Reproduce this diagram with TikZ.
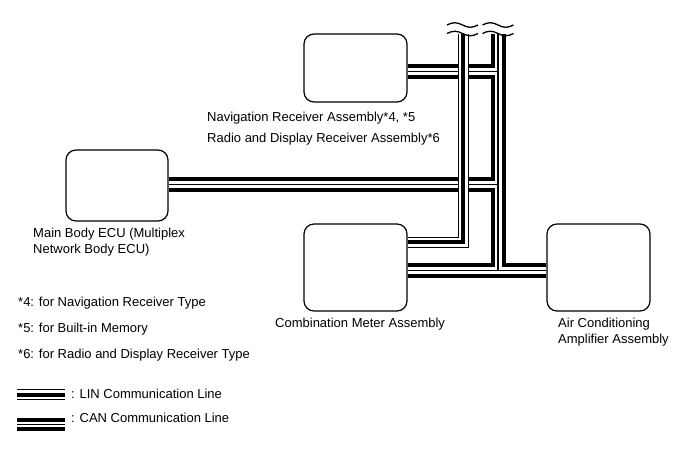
\documentclass[tikz,border=0pt]{standalone}
\usepackage{fontspec}
\setmainfont{Liberation Sans}
\begin{document}
\begin{tikzpicture}[x=1pt,y=-1pt,
  unit/.style={draw, line width=1.2pt, rounded corners=10pt, inner sep=0pt},
  lbl/.style={anchor=base west, inner sep=0pt, font=\fontsize{13}{15}\selectfont},
  canbus/.style={draw=black, line width=15pt, line cap=butt, line join=miter,
    postaction={draw=white, line width=7pt},
    postaction={draw=black, line width=1.2pt}},
  linbus/.style={draw=black, line width=11pt, line cap=butt, line join=miter,
    postaction={draw=white, line width=9pt},
    postaction={draw=black, line width=4pt}},
  canleg/.style={draw=black, line width=12.5pt, line cap=butt,
    postaction={draw=white, line width=4.5pt},
    postaction={draw=black, line width=1.2pt}},
  tilde/.style={draw=black, line width=1.3pt}
]
\useasboundingbox (0,0) rectangle (689,464);

% units
\node[unit, minimum width=103pt, minimum height=68pt] (nav) at (355.5,68) {};
\node[unit, minimum width=102pt, minimum height=71pt] (ecu) at (117,185.5) {};
\node[unit, minimum width=103pt, minimum height=87pt] (comb) at (355.5,267.5) {};
\node[unit, minimum width=103pt, minimum height=87pt] (ac) at (598.5,267.5) {};

% junction coordinates
\coordinate (canTop) at (498,33.5);
\coordinate (linTop) at (463,33.5);
\coordinate (jNav) at (498,71.5);
\coordinate (jEcu) at (498,184.5);
\coordinate (jBus) at (498,270.5);
\coordinate (linCorner) at (463,242);

% CAN bus (one path so that the junctions merge)
\draw[canbus] (canTop) -- (jBus)
  (nav.east |- jNav) -- (jNav)
  (ecu.east |- jEcu) -- (jEcu)
  (comb.east |- jBus) -- (ac.west |- jBus);

% LIN line
\draw[linbus] (linTop) -- (linCorner) -- (comb.east |- linCorner);

% break marks
\foreach \cx in {462.5,498}{
  \foreach \cy in {25,33.5}{
    \draw[tilde] (\cx-15.5,\cy) sin (\cx-7.75,\cy-2.3) cos (\cx,\cy) sin (\cx+7.75,\cy+2.3) cos (\cx+15.5,\cy);
  }
}

% labels
\node[lbl] (navlbl) at (207,121.5) {Navigation Receiver Assembly*4, *5};
\node[lbl] (radiolbl) at (207,142) {Radio and Display Receiver Assembly*6};
\node[lbl] (eculblA) at (33,237) {Main Body ECU (Multiplex};
\node[lbl] (eculblB) at (33,253) {Network Body ECU)};
\node[lbl] (combLbl) at (275,327) {Combination Meter Assembly};
\node[lbl] (aclblA) at (558,327) {Air Conditioning};
\node[lbl] (aclblB) at (558,343) {Amplifier Assembly};
\node[lbl] (note4) at (18,306) {*4: for Navigation Receiver Type};
\node[lbl] (note5) at (18,332) {*5: for Built-in Memory};
\node[lbl] (note6) at (18,358) {*6: for Radio and Display Receiver Type};

% legend
\coordinate (linLegA) at (17,394.7);
\coordinate (linLegB) at (65,394.7);
\coordinate (canLegA) at (17,424.3);
\coordinate (canLegB) at (65,424.3);
\draw[linbus] (linLegA) -- (linLegB);
\draw[canleg] (canLegA) -- (canLegB);
\node[lbl] (linLegLbl) at (71,398.5) {: LIN Communication Line};
\node[lbl] (canLegLbl) at (71,422.5) {: CAN Communication Line};
\end{tikzpicture}
\end{document}
